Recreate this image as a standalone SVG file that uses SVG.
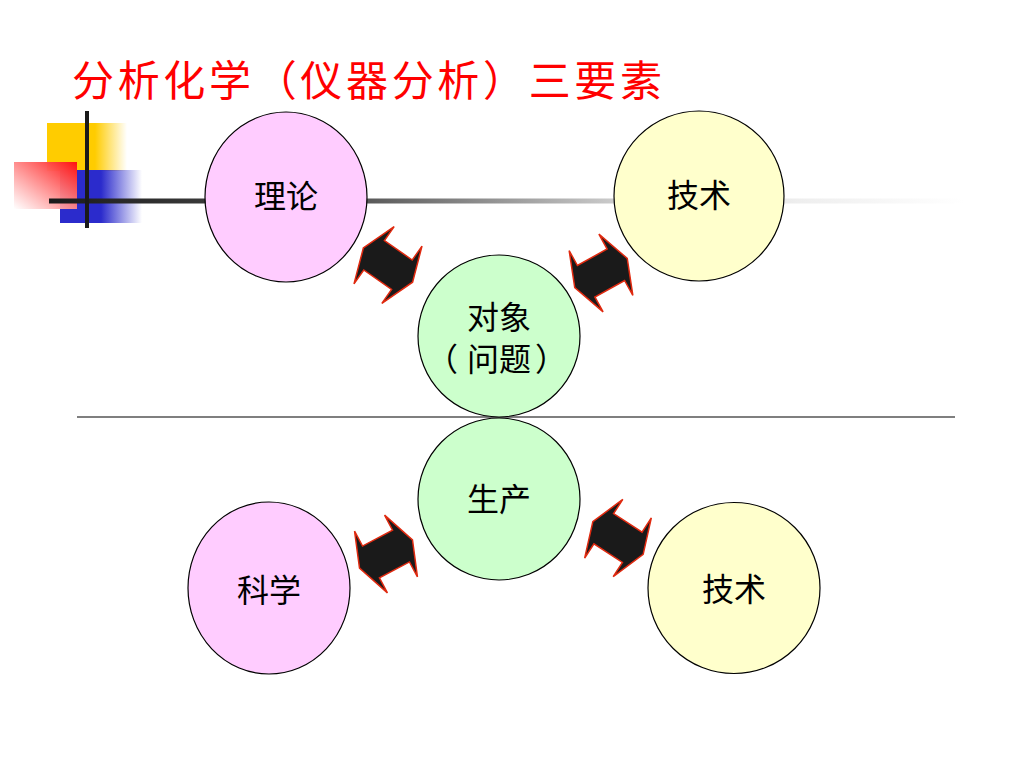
<svg xmlns="http://www.w3.org/2000/svg" width="1024" height="768" viewBox="0 0 1024 768">
  <defs>
    <linearGradient id="gLine" gradientUnits="userSpaceOnUse" x1="49" y1="0" x2="964" y2="0">
      <stop offset="0" stop-color="#1a1a1a"/>
      <stop offset="0.35" stop-color="#5a5a5a"/>
      <stop offset="0.62" stop-color="#cccccc"/>
      <stop offset="0.82" stop-color="#eeeeee"/>
      <stop offset="1" stop-color="#ffffff"/>
    </linearGradient>
    <linearGradient id="gYellow" x1="0" y1="0" x2="1" y2="0">
      <stop offset="0" stop-color="#ffcc00"/>
      <stop offset="0.6" stop-color="#ffcc00"/>
      <stop offset="1" stop-color="#ffcc00" stop-opacity="0"/>
    </linearGradient>
    <linearGradient id="gBlue" x1="0" y1="0" x2="1" y2="0">
      <stop offset="0" stop-color="#2b2bcc"/>
      <stop offset="0.5" stop-color="#2b2bcc"/>
      <stop offset="1" stop-color="#2b2bcc" stop-opacity="0"/>
    </linearGradient>
    <linearGradient id="gRed" x1="1" y1="0" x2="0" y2="1">
      <stop offset="0" stop-color="#ff1010"/>
      <stop offset="1" stop-color="#ffffff" stop-opacity="0.9"/>
    </linearGradient>
    <polygon id="dblArrow" points="-30,0 -17,-35 -17,-18 17,-18 17,-35 30,0 17,35 17,18 -17,18 -17,35"/>
  </defs>
  <style>
    .title { font-family: "Liberation Serif", "Noto Sans CJK SC", serif; font-size: 42px; fill: #ff0000; }
    .lbl { font-family: "Liberation Serif", "Noto Sans CJK SC", serif; font-size: 32px; fill: #000000; text-anchor: middle; }
    .pink { fill: #ffccff; stroke: #000000; stroke-width: 1.2; }
    .yellow { fill: #ffffcc; stroke: #000000; stroke-width: 1.2; }
    .green { fill: #ccffcc; stroke: #000000; stroke-width: 1.2; }
    .arrow { fill: #1a1a1a; stroke: #e02a10; stroke-width: 1.5; stroke-linejoin: miter; }
  </style>

  <rect width="1024" height="768" fill="#ffffff"/>

  <!-- decoration -->
  <g id="decoration">
    <rect x="47" y="123" width="80" height="48" fill="url(#gYellow)"/>
    <rect x="60" y="170" width="82" height="53" fill="url(#gBlue)"/>
    <rect x="14" y="162" width="63" height="47" fill="url(#gRed)"/>
    <rect x="49" y="198.5" width="915" height="5" fill="url(#gLine)"/>
    <rect x="85" y="111" width="4" height="117" fill="#1a1a1a"/>
  </g>

  <line x1="77" y1="417" x2="955" y2="417" stroke="#555555" stroke-width="1.5"/>

  <text class="title" x="72" y="96" textLength="590" lengthAdjust="spacing">分析化学（仪器分析）三要素</text>

  <g id="connectors">
    <use href="#dblArrow" class="arrow" transform="translate(388,265) rotate(35)"/>
    <use href="#dblArrow" class="arrow" transform="translate(601,273) rotate(-29)"/>
    <use href="#dblArrow" class="arrow" transform="translate(386,554) rotate(-28)"/>
    <use href="#dblArrow" class="arrow" transform="translate(618,538) rotate(33)"/>
  </g>

  <g id="node-lilun">
    <ellipse class="pink" cx="286" cy="197" rx="81" ry="85"/>
    <text class="lbl" x="286" y="208">理论</text>
  </g>
  <g id="node-jishu-top">
    <ellipse class="yellow" cx="699" cy="196" rx="85" ry="85"/>
    <text class="lbl" x="699" y="207">技术</text>
  </g>
  <g id="node-duixiang">
    <circle class="green" cx="499" cy="336" r="81"/>
    <text class="lbl" x="499" y="329">对象</text>
    <text class="lbl" y="371"><tspan x="442">（</tspan><tspan x="499">问题</tspan><tspan x="551">）</tspan></text>
  </g>
  <g id="node-shengchan">
    <circle class="green" cx="499" cy="499" r="81"/>
    <text class="lbl" x="499" y="511">生产</text>
  </g>
  <g id="node-kexue">
    <ellipse class="pink" cx="269" cy="588" rx="81" ry="86"/>
    <text class="lbl" x="269" y="602">科学</text>
  </g>
  <g id="node-jishu-bottom">
    <ellipse class="yellow" cx="734" cy="588" rx="86" ry="85.5"/>
    <text class="lbl" x="734" y="601">技术</text>
  </g>
</svg>
